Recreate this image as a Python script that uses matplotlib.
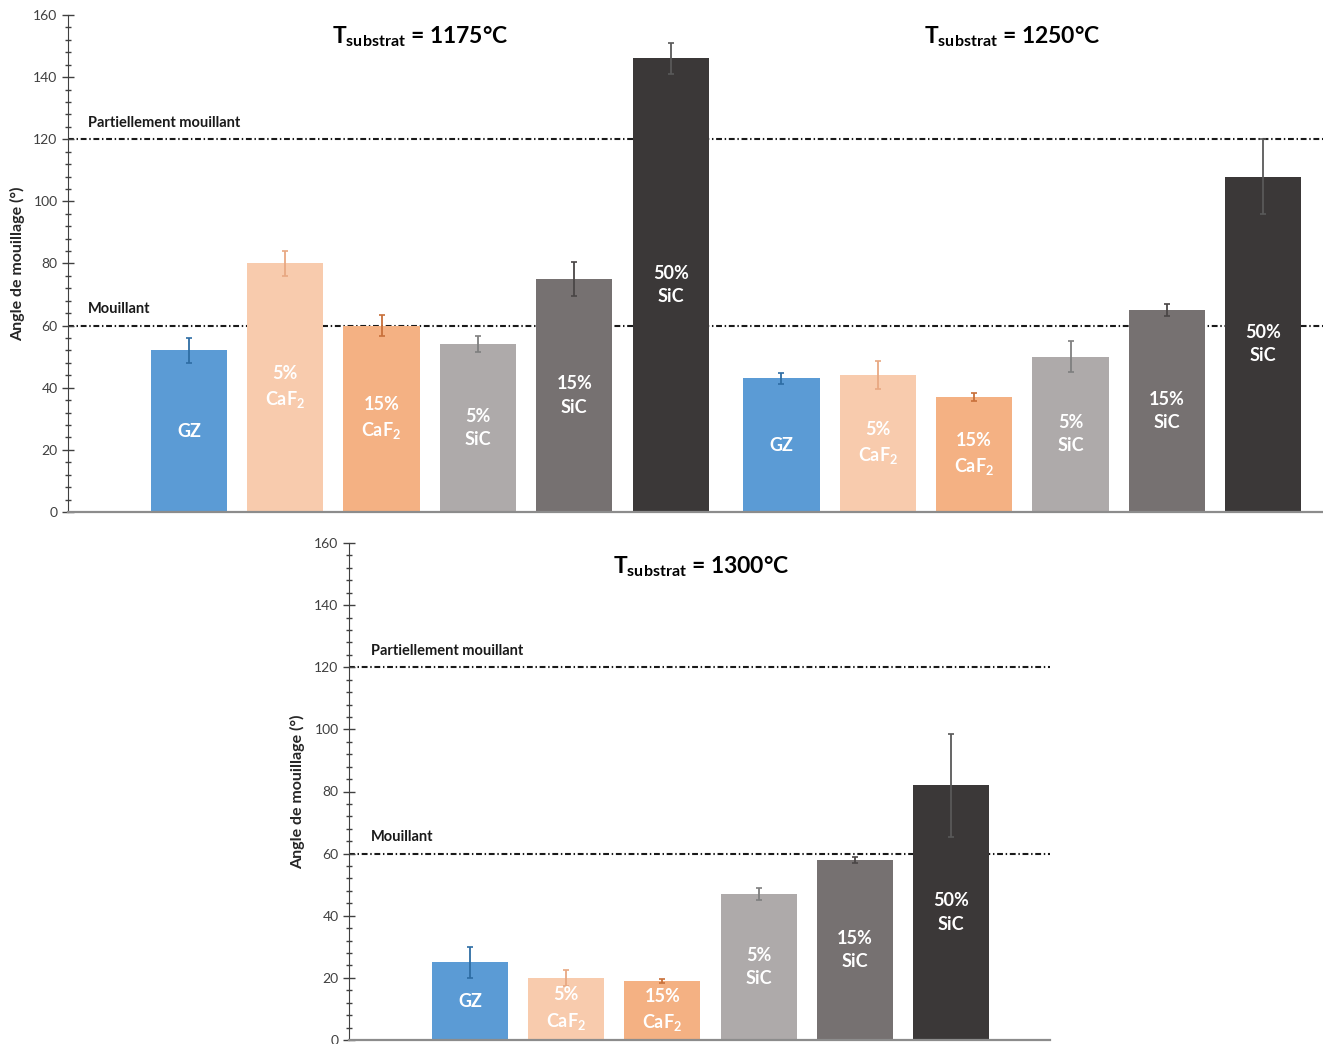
import matplotlib.pyplot as plt
from matplotlib.ticker import MultipleLocator
import matplotlib.transforms as mtransforms
import numpy as np

plt.rcParams["font.family"] = ["Lato", "DejaVu Sans"]
plt.rcParams["mathtext.fontset"] = "custom"
plt.rcParams["mathtext.rm"] = "Lato:bold"
plt.rcParams["mathtext.bf"] = "Lato:bold"
plt.rcParams["mathtext.it"] = "Lato:bold"

# ---- data ----
labels = ["GZ", "5%\nCaF$_2$", "15%\nCaF$_2$", "5%\nSiC", "15%\nSiC", "50%\nSiC"]
colors = ["#5B9BD5", "#F8CBAD", "#F4B183", "#AEAAAA", "#767171", "#3B3838"]
err_colors = ["#2E6DA4", "#E8A882", "#C8703A", "#7F7F7F", "#4A4646", "#595959"]

vals_1175 = [52, 80, 60, 54, 75, 146]
errs_1175 = [4, 4, 3.5, 2.5, 5.5, 5]
vals_1250 = [43, 44, 37, 50, 65, 108]
errs_1250 = [1.8, 4.5, 1.2, 5, 2, 12]
vals_1300 = [25, 20, 19, 47, 58, 82]
errs_1300 = [5, 2.5, 0.7, 2, 1, 16.5]

titles = ["1175°C", "1250°C", "1300°C"]
thresholds = [60, 120]
threshold_names = ["Mouillant", "Partiellement mouillant"]

W, H = 1323, 1044
fig = plt.figure(figsize=(W / 100, H / 100), dpi=100)


def style_axis(ax):
    ax.set_ylim(0, 160)
    ax.yaxis.set_major_locator(MultipleLocator(20))
    ax.yaxis.set_minor_locator(MultipleLocator(4))
    ax.tick_params(axis="y", which="major", direction="inout", length=8,
                   width=1, colors="#404040", labelsize=10, labelcolor="#404040")
    ax.tick_params(axis="y", which="minor", direction="inout", length=5,
                   width=1, colors="#404040")
    ax.set_xticks([])
    ax.spines["top"].set_visible(False)
    ax.spines["right"].set_visible(False)
    ax.spines["left"].set_color("#404040")
    ax.spines["bottom"].set_color("#8C8C8C")
    ax.spines["bottom"].set_linewidth(1.6)
    ax.set_ylabel("Angle de mouillage (°)", fontsize=11.5, fontweight="bold",
                  color="#262626")


def draw_group(ax, x, vals, errs):
    bars = ax.bar(x, vals, width=0.79, color=colors, zorder=2)
    for xi, v, e, ec in zip(x, vals, errs, err_colors):
        ax.errorbar(xi, v, yerr=e, fmt="none", ecolor=ec, elinewidth=1.3,
                    capsize=2.5, capthick=1.2, zorder=3)
    for xi, v, lab in zip(x, vals, labels):
        ax.text(xi, v / 2, lab, ha="center", va="center", color="white",
                fontsize=13, fontweight="bold", linespacing=1.45, zorder=4)
    return bars


def draw_thresholds(ax, xfrac):
    trans = mtransforms.blended_transform_factory(ax.transAxes, ax.transData)
    for t, name in zip(thresholds, threshold_names):
        ax.axhline(t, color="#1a1a1a", lw=1.5, dashes=(2.8, 1.3, 0.7, 1.3), zorder=1)
        ax.text(xfrac, t + 3, name, transform=trans, ha="left", va="bottom",
                fontsize=10.5, fontweight="bold", color="#1a1a1a")


# ---- top panel: 1175 and 1250 ----
ax1 = fig.add_axes([68 / W, 1 - 512 / H, 1 - 68 / W, (512 - 15) / H])
x1 = np.arange(6)
x2 = np.arange(6) + 6.15
draw_group(ax1, x1, vals_1175, errs_1175)
draw_group(ax1, x2, vals_1250, errs_1250)
ax1.set_xlim(-1.254, 11.77)
style_axis(ax1)
draw_thresholds(ax1, 0.016)
ax1.yaxis.set_label_coords(-0.034, 0.5)
ax1.text(2.4, 153, r"T$_{\mathbf{substrat}}$ = " + titles[0], ha="center",
         va="center", fontsize=16.5, fontweight="bold")
ax1.text(8.55, 153, r"T$_{\mathbf{substrat}}$ = " + titles[1], ha="center",
         va="center", fontsize=16.5, fontweight="bold")

# ---- bottom panel: 1300 ----
ax2 = fig.add_axes([349 / W, 1 - 1040 / H, (1050 - 349) / W, (1040 - 543) / H])
x3 = np.arange(6)
draw_group(ax2, x3, vals_1300, errs_1300)
ax2.set_xlim(-1.258, 6.03)
style_axis(ax2)
draw_thresholds(ax2, 0.031)
ax2.yaxis.set_label_coords(-0.062, 0.5)
ax2.text(2.4, 152.5, r"T$_{\mathbf{substrat}}$ = " + titles[2], ha="center",
         va="center", fontsize=16.5, fontweight="bold")

fig.savefig("out.png", dpi=100)
